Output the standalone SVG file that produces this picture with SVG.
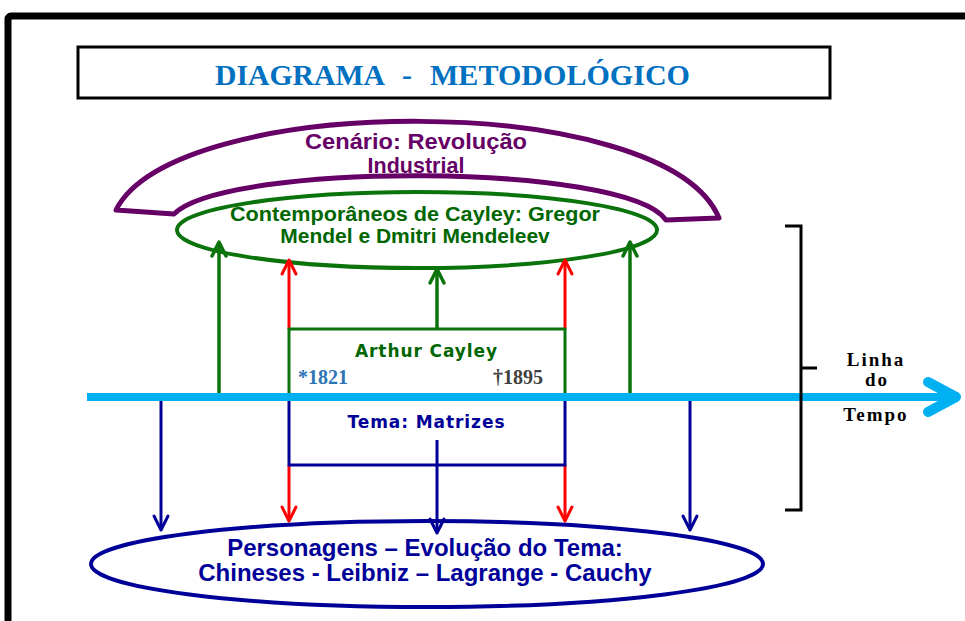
<svg xmlns="http://www.w3.org/2000/svg" width="965" height="621" viewBox="0 0 965 621">
<style>
.sans{font-family:"Liberation Sans",Arial,sans-serif;font-weight:bold;text-anchor:middle}
.wide{font-family:"DejaVu Sans",Verdana,sans-serif;font-weight:bold;text-anchor:middle}
.serif{font-family:"Liberation Serif","Times New Roman",serif;font-weight:bold}
.g{stroke:#0b730b;stroke-width:3.5;fill:none}
.r{stroke:#ff0000;stroke-width:3;fill:none}
.b{stroke:#000099;stroke-width:3;fill:none}
.head{stroke-linecap:round;stroke-linejoin:round}
</style>
<rect x="0" y="0" width="965" height="621" fill="#fff"/>
<rect x="8" y="16" width="1000" height="700" rx="3" fill="none" stroke="#000" stroke-width="7"/>
<g id="title">
<rect x="78" y="47" width="752" height="51" fill="#fff" stroke="#000" stroke-width="3"/>
<text y="85" class="serif" font-size="30" fill="#0070c0"><tspan x="215" textLength="170" lengthAdjust="spacingAndGlyphs">DIAGRAMA</tspan><tspan x="402">-</tspan><tspan x="430" textLength="260" lengthAdjust="spacingAndGlyphs">METODOLÓGICO</tspan></text>
</g>
<g id="cenario">
<path d="M116,210 C175,92 665,89 719,218 L666,220 C625,162 225,162 174,214 Z" fill="#fff" stroke="#660066" stroke-width="5" stroke-linejoin="round"/>
<text x="416" y="149" class="sans" font-size="21.5" fill="#660066" textLength="222" lengthAdjust="spacingAndGlyphs">Cenário: Revolução</text>
<text x="416" y="173" class="sans" font-size="21.5" fill="#660066">Industrial</text>
</g>
<g id="contemporaneos">
<ellipse cx="417" cy="230" rx="240" ry="38" fill="none" stroke="#0b730b" stroke-width="4"/>
<text x="415" y="221" class="sans" font-size="21" fill="#006600" textLength="370" lengthAdjust="spacingAndGlyphs">Contemporâneos de Cayley: Gregor</text>
<text x="415" y="243" class="sans" font-size="21" fill="#006600">Mendel e Dmitri Mendeleev</text>
</g>
<g id="connectors">
<path class="g" d="M219,397 V242"/><path class="g head" d="M212,256 L219,242 L226,256"/>
<path class="g" d="M630,397 V242"/><path class="g head" d="M623,256 L630,242 L637,256"/>
<path class="g" d="M437,329 V269"/><path class="g head" d="M430,283 L437,269 L444,283"/>
<path class="r" d="M289,329 V260"/><path class="r head" d="M282,274 L289,260 L296,274"/>
<path class="r" d="M565,329 V260"/><path class="r head" d="M558,274 L565,260 L572,274"/>
<path class="r" d="M289,465 V521"/><path class="r head" d="M282,507 L289,521 L296,507"/>
<path class="r" d="M565,465 V521"/><path class="r head" d="M558,507 L565,521 L572,507"/>
<path class="b" d="M161,400 V530"/><path class="b head" d="M154,516 L161,530 L168,516"/>
<path class="b" d="M690,400 V530"/><path class="b head" d="M683,516 L690,530 L697,516"/>
<path class="b" d="M437,440 V533"/><path class="b head" d="M430,519 L437,533 L444,519"/>
</g>
<g id="cayley">
<rect x="289" y="329" width="276" height="68" fill="none" stroke="#0b730b" stroke-width="3"/>
<text x="426" y="357" class="wide" font-size="17" fill="#006600" textLength="142">Arthur Cayley</text>
<text x="298" y="384" class="serif" font-size="20" fill="#2e75b6">*1821</text>
<text x="493" y="384" class="serif" font-size="20" fill="#404040">†1895</text>
</g>
<g id="tema">
<rect x="289" y="399" width="276" height="66" fill="none" stroke="#000099" stroke-width="3"/>
<text x="426" y="428" class="wide" font-size="17" fill="#000099" textLength="157">Tema: Matrizes</text>
</g>
<g id="linha-do-tempo">
<path d="M87,397 H952" stroke="#00b0f0" stroke-width="8"/>
<path d="M928,382 L956,397 L928,412" fill="none" stroke="#00b0f0" stroke-width="10" stroke-linecap="round" stroke-linejoin="round"/>
<path d="M785,226 H801 V510 H785 M801,368 H817" fill="none" stroke="#000" stroke-width="3"/>
<text x="876" y="366" class="serif" font-size="19" fill="#000" text-anchor="middle" letter-spacing="2">Linha</text>
<text x="877" y="386" class="serif" font-size="19" fill="#000" text-anchor="middle" letter-spacing="2">do</text>
<text x="876" y="421" class="serif" font-size="19" fill="#000" text-anchor="middle" letter-spacing="2">Tempo</text>
</g>
<g id="personagens">
<ellipse cx="427" cy="564" rx="336" ry="43" fill="none" stroke="#000099" stroke-width="4"/>
<text x="425" y="556" class="sans" font-size="24" fill="#000099">Personagens – Evolução do Tema:</text>
<text x="425" y="581" class="sans" font-size="24" fill="#000099">Chineses - Leibniz – Lagrange - Cauchy</text>
</g>
</svg>
